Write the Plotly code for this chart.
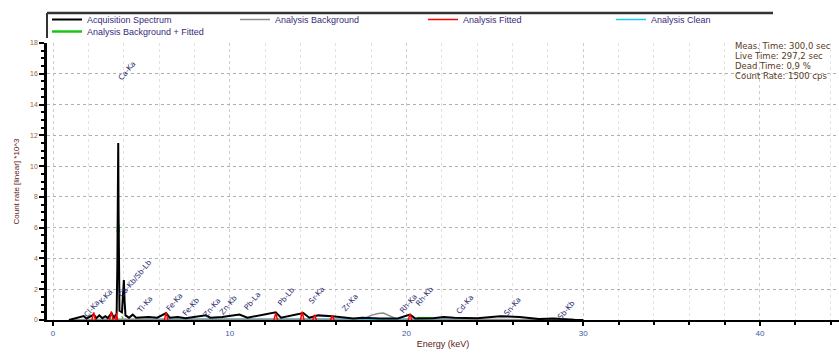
import plotly.graph_objects as go

# ---------------- data ----------------
# Acquisition spectrum (energy keV, count rate *10^3)
acq_E = [0.9, 1.2, 1.74, 1.9, 2.31, 2.45, 2.62, 2.8, 2.96, 3.1, 3.31, 3.45, 3.6, 3.64, 3.67, 3.69, 3.71, 3.73,
         3.76, 3.9, 3.97, 4.01, 4.05, 4.1, 4.3, 4.51, 4.7, 5.41, 5.9, 6.4, 6.6, 7.06, 7.5, 8.05, 8.64, 8.9,
         9.57, 10.55, 11.0, 12.6, 12.9, 14.16, 14.5, 15.0, 15.8, 17.0, 17.5, 18.5, 19.5, 20.2, 20.5, 21.5,
         22.1, 22.7, 24.0, 25.3, 26.4, 27.5, 28.3, 29.5, 30.0]
acq_Y = [0.0, 0.08, 0.25, 0.1, 0.35, 0.12, 0.3, 0.12, 0.25, 0.12, 0.45, 0.15, 0.4, 3.5, 9.0, 11.5, 7.0, 2.5,
         0.6, 0.5, 1.5, 2.6, 1.2, 0.3, 0.15, 0.35, 0.15, 0.2, 0.15, 0.45, 0.15, 0.2, 0.12, 0.2, 0.3, 0.15,
         0.2, 0.35, 0.15, 0.5, 0.15, 0.45, 0.15, 0.3, 0.25, 0.1, 0.15, 0.1, 0.1, 0.35, 0.1, 0.12,
         0.2, 0.15, 0.12, 0.25, 0.2, 0.06, 0.1, 0.02, 0.0]

bg_E = [0.9, 3.0, 8.0, 14.0, 17.6, 18.0, 18.4, 18.7, 19.0, 19.4, 24.0, 28.0, 30.0]
bg_Y = [0.02, 0.05, 0.06, 0.06, 0.08, 0.3, 0.42, 0.45, 0.3, 0.08, 0.05, 0.03, 0.01]

fit_E = [2.2, 2.3, 2.4, None, 3.2, 3.3, 3.4, None, 3.55, 3.6, 3.65, None, 6.3, 6.4, 6.5, None,
         12.5, 12.6, 12.7, None, 14.0, 14.1, 14.2, None, 14.7, 14.8, 14.9, None, 15.7, 15.8, 15.9, None,
         20.1, 20.2, 20.3]
fit_Y = [0.0, 0.5, 0.0, None, 0.0, 0.55, 0.0, None, 0.0, 0.45, 0.0, None, 0.0, 0.5, 0.0, None,
         0.0, 0.45, 0.0, None, 0.0, 0.55, 0.0, None, 0.0, 0.35, 0.0, None, 0.0, 0.3, 0.0, None,
         0.0, 0.4, 0.0]

clean_E = [1.0, 10.0, 20.0, 28.0]
clean_Y = [0.02, 0.03, 0.03, 0.02]

bgfit_E = [3.665, 3.69, 3.715, None, 3.9, 3.95, None, 20.6, 21.0, 21.5]
bgfit_Y = [5.7, 6.2, 5.7, None, 0.15, 0.2, None, 0.12, 0.14, 0.12]

# peak labels
lab_text = ["Ca-Ka", "Cl-Ka", "K-Ka", "Ca-Kb/Sb-Lb", "Ti-Ka", "Fe-Ka", "Fe-Kb", "Zn-Ka", "Zn-Kb",
            "Pb-La", "Pb-Lb", "Sr-Ka", "Zr-Ka", "Rh-Ka", "Rh-Kb", "Cd-Ka", "Sn-Ka", "Sb-Kb"]
lab_E = [4.2, 2.2, 3.0, 4.65, 5.2, 6.9, 7.8, 9.0, 9.95, 11.3, 13.2, 14.9, 16.8, 20.1, 21.0, 23.3, 26.0, 29.0]
lab_Y = [16.2, 0.75, 1.5, 2.7, 1.0, 1.2, 0.9, 0.8, 1.0, 1.25, 1.5, 1.6, 1.15, 1.1, 1.55, 1.0, 0.85, 0.65]

info_lines = ["Meas. Time: 300,0 sec", "Live Time: 297,2 sec", "Dead Time: 0,9 %", "Count Rate: 1500 cps"]

x_ticks = [0, 10, 20, 30, 40]
y_ticks = [0, 2, 4, 6, 8, 10, 12, 14, 16, 18]

# ---------------- figure ----------------
fig = go.Figure()
fig.add_trace(go.Scatter(x=bgfit_E, y=bgfit_Y, mode="lines", name="Analysis Background + Fitted",
                         line=dict(color="#19c419", width=2.5), legend="legend2", connectgaps=False))
fig.add_trace(go.Scatter(x=clean_E, y=clean_Y, mode="lines", name="Analysis Clean",
                         line=dict(color="#1ec8f0", width=1.5), legendrank=4))
fig.add_trace(go.Scatter(x=bg_E, y=bg_Y, mode="lines", name="Analysis Background",
                         line=dict(color="#8c8c8c", width=1.5), legendrank=2))
fig.add_trace(go.Scatter(x=acq_E, y=acq_Y, mode="lines", name="Acquisition Spectrum",
                         line=dict(color="black", width=2), legendrank=1))
fig.add_trace(go.Scatter(x=fit_E, y=fit_Y, mode="lines", name="Analysis Fitted",
                         line=dict(color="#ff0000", width=1.5), legendrank=3, connectgaps=False))

for t, e, yv in zip(lab_text, lab_E, lab_Y):
    fig.add_annotation(x=e, y=yv, text=t, showarrow=False, textangle=-50,
                       font=dict(size=7.5, color="#2b2b6e", family="DejaVu Sans"))

for i, line in enumerate(info_lines):
    fig.add_annotation(xref="paper", yref="paper", x=(733 - 47) / 792, y=(320 - (46 + 10 * i)) / 277,
                       xanchor="left", yanchor="middle", align="left", showarrow=False, text=line,
                       font=dict(size=8.5, color="#5a3a1a", family="DejaVu Sans"))

# legend frame (top and left border)
fig.add_shape(type="line", xref="paper", yref="paper", x0=0, x1=(773 - 47) / 792, y0=(320 - 13) / 277,
              y1=(320 - 13) / 277, line=dict(color="#333333", width=2.5))
fig.add_shape(type="line", xref="paper", yref="paper", x0=0, x1=0, y0=(320 - 13) / 277,
              y1=(320 - 38) / 277, line=dict(color="#333333", width=2))

leg_font = dict(size=9, color="#3a2a7a", family="Liberation Sans")
fig.update_layout(
    width=839, height=354,
    margin=dict(l=47, r=0, t=43, b=34),
    paper_bgcolor="white", plot_bgcolor="white",
    font=dict(family="Liberation Sans", size=8, color="#333366"),
    showlegend=True,
    legend=dict(orientation="h", x=0.0, y=(320 - 5) / 277, xanchor="left", yanchor="top",
                entrywidth=143, entrywidthmode="pixels", itemwidth=30,
                font=leg_font, bgcolor="rgba(0,0,0,0)", traceorder="normal"),
    legend2=dict(orientation="h", x=0.0, y=(320 - 17) / 277, xanchor="left", yanchor="top",
                 itemwidth=30, font=leg_font, bgcolor="rgba(0,0,0,0)"),
    xaxis=dict(range=[-0.34, 44.47], tickvals=x_ticks, ticktext=[str(v) for v in x_ticks],
               showline=True, linecolor="black", linewidth=2, ticks="outside", ticklen=4,
               tickcolor="black", tickwidth=2, zeroline=False,
               showgrid=True, gridcolor="#cccccc", griddash="dot", gridwidth=1,
               minor=dict(dtick=2, showgrid=True, gridcolor="#e2e2e2", griddash="dot",
                          ticks="outside", ticklen=3, tickcolor="black"),
               tickfont=dict(size=8, color="#3a5aa0"),
               title=dict(text="Energy (keV)", font=dict(size=9, color="#602020"), standoff=4)),
    yaxis=dict(range=[0, 18], tickvals=y_ticks, ticktext=[str(v) for v in y_ticks],
               showline=True, linecolor="black", linewidth=2.5, ticks="outside", ticklen=5,
               tickcolor="black", tickwidth=2, zeroline=False,
               showgrid=True, gridcolor="#b0b0b0", griddash="dot", gridwidth=1,
               minor=dict(dtick=0.5, ticks="outside", ticklen=3, tickcolor="black", showgrid=False),
               tickfont=dict(size=7, color="#a0602a"),
               title=dict(text="Count rate [linear] *10^3", font=dict(size=8, color="#602020"), standoff=10)),
)

fig.write_html("out.html")
